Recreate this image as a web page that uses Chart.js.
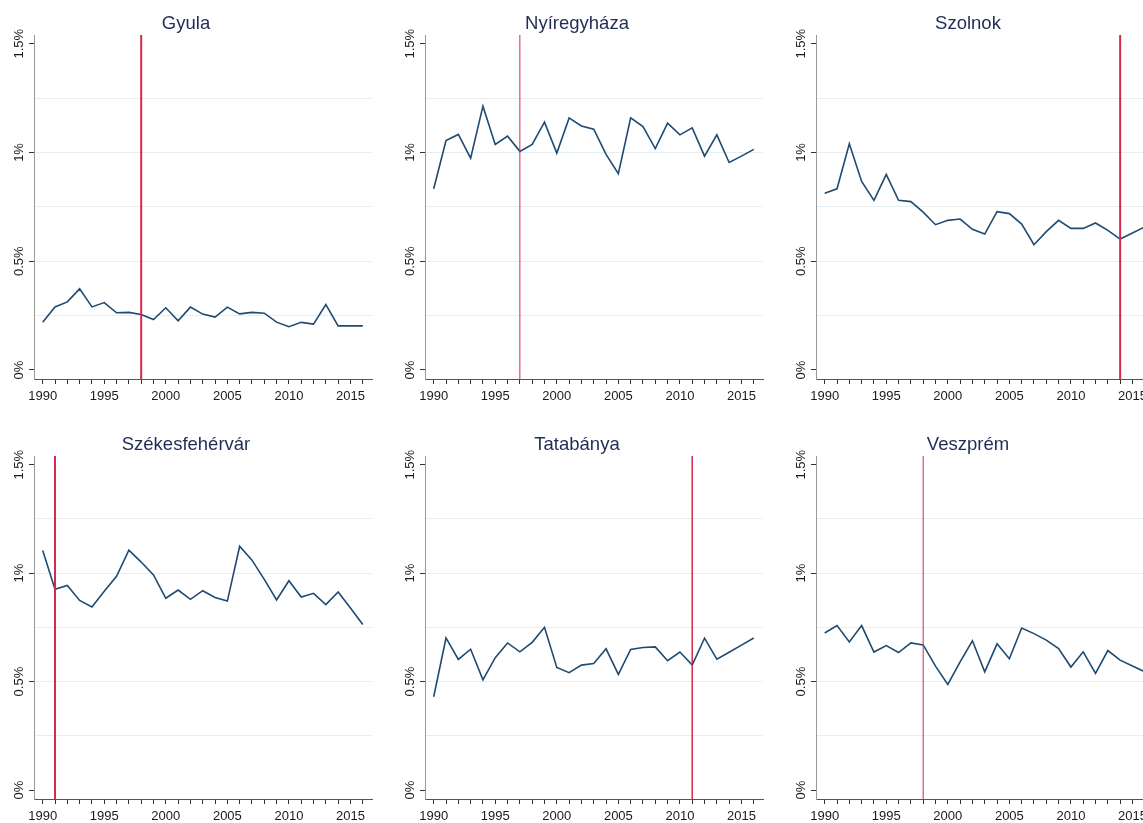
<!DOCTYPE html>
<html><head><meta charset="utf-8">
<script src="https://cdn.jsdelivr.net/npm/chart.js@4.4.1/dist/chart.umd.min.js"></script>
<style>
html,body{margin:0;padding:0;background:#fff;overflow:hidden;width:1143px;height:823px;position:relative;}
canvas{position:absolute;}
</style></head><body>
<canvas id="c0"></canvas><canvas id="c1"></canvas><canvas id="c2"></canvas>
<canvas id="c3"></canvas><canvas id="c4"></canvas><canvas id="c5"></canvas>
<script>
const years = [1990,1991,1992,1993,1994,1995,1996,1997,1998,1999,2000,2001,2002,2003,2004,2005,2006,2007,2008,2009,2010,2011,2012,2013,2014,2015,2016];
const cities = ["Gyula","Nyíregyháza","Szolnok","Székesfehérvár","Tatabánya","Veszprém"];
const gyula = [0.219,0.290,0.313,0.373,0.290,0.310,0.263,0.265,0.255,0.232,0.286,0.226,0.289,0.257,0.243,0.289,0.258,0.265,0.261,0.220,0.199,0.219,0.211,0.301,0.203,0.203,0.203];
const nyiregyhaza = [0.833,1.055,1.083,0.974,1.213,1.037,1.075,1.005,1.037,1.139,0.997,1.159,1.122,1.107,0.991,0.902,1.159,1.119,1.018,1.135,1.081,1.113,0.983,1.081,0.954,0.983,1.014];
const szolnok = [0.813,0.833,1.040,0.867,0.780,0.899,0.780,0.774,0.726,0.668,0.688,0.694,0.647,0.625,0.728,0.719,0.671,0.576,0.636,0.688,0.651,0.651,0.676,0.642,0.602,0.630,0.658];
const szekesfehervar = [1.104,0.926,0.943,0.874,0.844,0.916,0.985,1.106,1.051,0.992,0.884,0.922,0.879,0.919,0.888,0.871,1.124,1.060,0.971,0.876,0.965,0.890,0.907,0.855,0.913,0.839,0.763];
const tatabanya = [0.430,0.701,0.602,0.649,0.508,0.610,0.678,0.637,0.681,0.750,0.565,0.541,0.576,0.583,0.651,0.533,0.648,0.657,0.660,0.596,0.636,0.576,0.700,0.603,0.635,0.668,0.701];
const veszprem = [0.724,0.758,0.683,0.758,0.636,0.666,0.634,0.678,0.669,0.571,0.487,0.591,0.688,0.545,0.674,0.605,0.747,0.721,0.691,0.652,0.567,0.637,0.538,0.643,0.599,0.572,0.545];
const cutYears = [1998,1997,2014,1991,2011,1998];
const yTicks = [0,0.25,0.5,0.75,1,1.25,1.5];
const yLabels = ["0%","","0.5%","","1%","","1.5%"];
const xLabelYears = [1990,1995,2000,2005,2010,2015];

const series = [gyula,nyiregyhaza,szolnok,szekesfehervar,tatabanya,veszprem];
const Y_MIN = -0.0414, Y_MAX = 1.54, X_MIN = 1989.293, X_MAX = 2016.75;
const FONT = "Arial, 'Liberation Sans', Helvetica, sans-serif";
const panels = [
  {left:0,top:0,h:410,cw:2},{left:391,top:0,h:410,cw:1},{left:782,top:0,h:410,cw:2},
  {left:0,top:421,h:409,cw:2},{left:391,top:421,h:409,cw:1.5},{left:782,top:421,h:409,cw:1}
];

panels.forEach((p,k)=>{
  const cv = document.getElementById('c'+k);
  cv.width = 380; cv.height = p.h;
  cv.style.left = p.left+'px'; cv.style.top = p.top+'px';
  cv.style.width = '380px'; cv.style.height = p.h+'px';
  new Chart(cv.getContext('2d'), {
    type:'line',
    data:{datasets:[
      {data:[{x:cutYears[k],y:Y_MIN},{x:cutYears[k],y:Y_MAX}], borderColor:'#d42a4d', borderWidth:p.cw, pointRadius:0, tension:0},
      {data:years.map((y,i)=>({x:y,y:series[k][i]})), borderColor:'#1f4a72', borderWidth:1.6, pointRadius:0, tension:0}
    ]},
    options:{
      responsive:false, animation:false, devicePixelRatio:1,
      layout:{padding:{left:0,right:8,top:0,bottom:0}},
      plugins:{
        legend:{display:false}, tooltip:{enabled:false},
        title:{display:true, text:cities[k], color:'#1f2d56', font:{size:18.5, family:FONT, weight:'normal'}, padding:{top:12.4,bottom:0.4}}
      },
      scales:{
        x:{type:'linear', min:X_MIN, max:X_MAX,
          afterBuildTicks:s=>{s.ticks = years.map(v=>({value:v}));},
          afterFit:s=>{s.height=31;},
          ticks:{autoSkip:false, maxRotation:0, minRotation:0, padding:5, color:'#1a1a1a', font:{size:13,family:FONT},
            callback:v=> xLabelYears.includes(v) ? String(v) : ''},
          grid:{drawOnChartArea:false, drawTicks:true, tickLength:5, tickColor:'#333', tickWidth:1},
          border:{color:'#555', width:1}
        },
        y:{type:'linear', min:Y_MIN, max:Y_MAX,
          afterBuildTicks:s=>{s.ticks = yTicks.map(v=>({value:v}));},
          afterFit:s=>{s.width=34;},
          ticks:{minRotation:90, maxRotation:90, crossAlign:'center', padding:-5.5, color:'#1a1a1a', font:{size:13,family:FONT},
            callback:(v,i)=> yLabels[i]},
          grid:{drawOnChartArea:true, drawTicks:true, tickLength:5, lineWidth:1,
            color:c=> (c.tick && (c.tick.value===0 || c.tick.value===1.5)) ? 'rgba(0,0,0,0)' : '#e5eef1',
            tickColor:c=> yLabels[c.index] ? '#333' : 'rgba(0,0,0,0)'},
          border:{color:'#999', width:1}
        }
      }
    }
  });
});
</script>
</body></html>
